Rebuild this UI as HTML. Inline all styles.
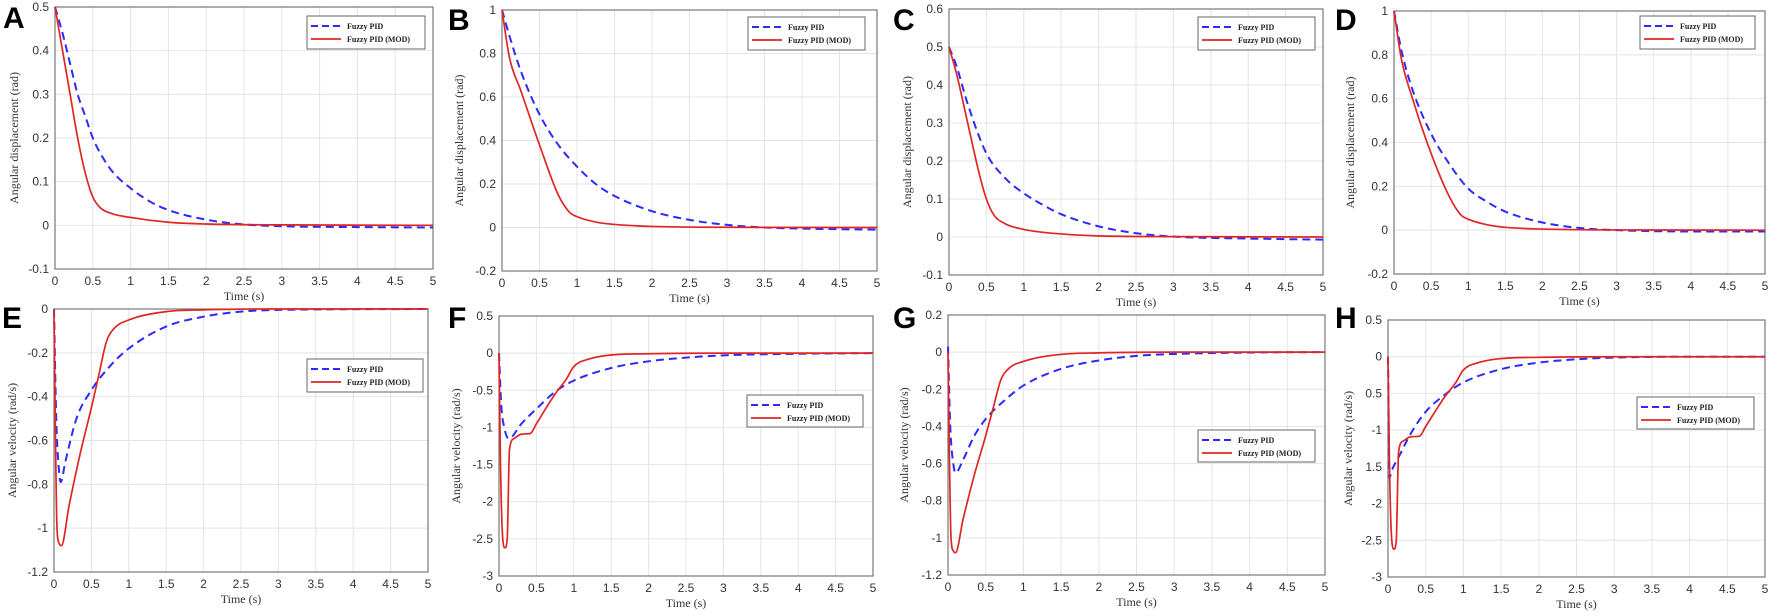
<!DOCTYPE html>
<html><head><meta charset="utf-8"><style>
html,body{margin:0;padding:0;background:#fff;}
svg{display:block;}
.tk{font-family:"Liberation Sans",sans-serif;font-size:12px;fill:#333;}
.ax{font-family:"Liberation Serif",serif;font-size:12px;fill:#333;}
.lg{font-family:"Liberation Serif",serif;font-size:8px;font-weight:bold;fill:#222;}
.pl{font-family:"Liberation Sans",sans-serif;font-size:30px;font-weight:bold;fill:#000;}
</style></head><body>
<svg id="fig" width="1772" height="616" viewBox="0 0 1772 616" xmlns="http://www.w3.org/2000/svg"></svg>
<script>
// Shared x ticks
const xTicks = [0,0.5,1,1.5,2,2.5,3,3.5,4,4.5,5];
// Panel A
const aT = [0,0.1,0.2,0.3,0.4,0.5,0.6,0.75,1,1.25,1.5,2,2.5,3,4,5];
const aBlue = [0.5,0.44,0.37,0.3,0.25,0.2,0.165,0.125,0.085,0.055,0.035,0.013,0.002,-0.002,-0.004,-0.005];
const aRedT = [0,0.1,0.2,0.3,0.4,0.5,0.6,0.75,1,1.5,2,3,5];
const aRed = [0.5,0.4,0.3,0.2,0.12,0.065,0.04,0.027,0.018,0.007,0.003,0.001,0];
const aYTicks = [-0.1,0,0.1,0.2,0.3,0.4,0.5];
// Panel B
const bT = [0,0.1,0.25,0.5,0.75,1,1.25,1.5,2,2.5,3,3.5,4,5];
const bBlue = [1,0.88,0.72,0.52,0.38,0.28,0.2,0.145,0.075,0.035,0.012,0,-0.005,-0.01];
const bRedT = [0,0.1,0.25,0.5,0.75,0.9,1,1.25,1.5,2,3,5];
const bRed = [1,0.78,0.63,0.38,0.15,0.07,0.05,0.025,0.014,0.005,0.001,0];
const bYTicks = [-0.2,0,0.2,0.4,0.6,0.8,1];
// Panel C
const cT = [0,0.1,0.25,0.5,0.75,1,1.25,1.5,2,2.5,3,4,5];
const cBlue = [0.5,0.45,0.35,0.22,0.155,0.115,0.085,0.06,0.028,0.01,0.001,-0.004,-0.007];
const cRedT = [0,0.1,0.25,0.4,0.5,0.6,0.75,1,1.5,2,3,5];
const cRed = [0.5,0.43,0.3,0.17,0.1,0.058,0.035,0.02,0.008,0.003,0.001,0];
const cYTicks = [-0.1,0,0.1,0.2,0.3,0.4,0.5,0.6];
// Panel D
const dT = [0,0.1,0.25,0.5,0.75,1,1.25,1.5,2,2.5,3,4,5];
const dBlue = [1,0.82,0.64,0.44,0.3,0.19,0.13,0.085,0.035,0.01,0,-0.006,-0.006];
const dRedT = [0,0.1,0.25,0.5,0.75,0.9,1,1.25,1.5,2,3,5];
const dRed = [1,0.78,0.6,0.35,0.15,0.07,0.05,0.025,0.013,0.005,0.001,0];
const dYTicks = [-0.2,0,0.2,0.4,0.6,0.8,1];
// Panel E
const eT = [0,0.03,0.07,0.09,0.15,0.3,0.5,0.75,1,1.5,2,2.5,3,5];
const eBlue = [0,-0.5,-0.75,-0.79,-0.7,-0.5,-0.37,-0.26,-0.18,-0.08,-0.035,-0.012,-0.004,0];
const eRedT = [0,0.02,0.04,0.07,0.1,0.2,0.35,0.5,0.6,0.7,0.8,1,1.5,2,3,5];
const eRed = [0,-0.6,-1.0,-1.07,-1.08,-0.9,-0.66,-0.45,-0.3,-0.15,-0.09,-0.05,-0.012,-0.004,0,0];
const eYTicks = [-1.2,-1,-0.8,-0.6,-0.4,-0.2,0];
// Panel F
const fT = [0,0.03,0.07,0.13,0.3,0.5,0.75,1,1.5,2,2.5,3,4,5];
const fBlue = [0,-0.7,-1.0,-1.15,-0.95,-0.75,-0.52,-0.37,-0.2,-0.11,-0.06,-0.03,-0.008,0];
const fRedT = [0,0.02,0.05,0.08,0.11,0.14,0.2,0.3,0.42,0.5,0.75,0.9,1,1.2,1.5,2,3,5];
const fRed = [0,-1.5,-2.5,-2.62,-2.5,-1.3,-1.15,-1.09,-1.08,-0.95,-0.55,-0.35,-0.18,-0.08,-0.025,-0.008,0,0];
const fYTicks = [-3,-2.5,-2,-1.5,-1,-0.5,0,0.5];
// Panel G
const gT = [0,0.03,0.07,0.1,0.2,0.35,0.5,0.75,1,1.5,2,2.5,3,4,5];
const gBlue = [0.03,-0.4,-0.6,-0.65,-0.58,-0.45,-0.36,-0.26,-0.18,-0.09,-0.045,-0.02,-0.01,-0.002,0];
const gRedT = [0,0.02,0.04,0.07,0.1,0.2,0.35,0.5,0.6,0.7,0.8,1,1.5,2,3,5];
const gRed = [0,-0.6,-1.0,-1.07,-1.08,-0.9,-0.66,-0.45,-0.3,-0.15,-0.09,-0.05,-0.012,-0.004,0,0];
const gYTicks = [-1.2,-1,-0.8,-0.6,-0.4,-0.2,0,0.2];
// Panel H
const hT = [0,0.02,0.05,0.15,0.3,0.5,0.75,1,1.5,2,2.5,3,4,5];
const hBlue = [0,-1.65,-1.55,-1.35,-1.05,-0.75,-0.52,-0.35,-0.17,-0.08,-0.035,-0.012,0,0];
const hRedT = [0,0.02,0.05,0.08,0.11,0.14,0.2,0.3,0.42,0.5,0.75,0.9,1,1.2,1.5,2,3,5];
const hRed = [0,-1.5,-2.5,-2.62,-2.5,-1.3,-1.15,-1.09,-1.08,-0.95,-0.55,-0.35,-0.18,-0.08,-0.025,-0.008,0,0];
const hYTicks = [-3,-2.5,-2,-1.5,-1,-0.5,0,0.5];
const hYLabels = ["-3","-2.5","-2","1.5","-1","0.5","0","0.5"];

const NS = "http://www.w3.org/2000/svg";
const fig = document.getElementById('fig');
function mk(tag, attrs, parent){const e=document.createElementNS(NS,tag);for(const k in attrs)e.setAttribute(k,attrs[k]);(parent||fig).appendChild(e);return e;}

// monotone cubic path through pixel points
function monoPath(xs, ys){
  const n=xs.length; if(n<2) return '';
  const d=[],m=new Array(n);
  for(let i=0;i<n-1;i++) d.push((ys[i+1]-ys[i])/(xs[i+1]-xs[i]));
  m[0]=d[0]; m[n-1]=d[n-2];
  for(let i=1;i<n-1;i++){ m[i]=(d[i-1]*d[i]<=0)?0:(d[i-1]+d[i])/2; }
  for(let i=0;i<n-1;i++){
    if(d[i]===0){m[i]=0;m[i+1]=0;continue;}
    const a=m[i]/d[i], b=m[i+1]/d[i], s=a*a+b*b;
    if(s>9){const t=3/Math.sqrt(s);m[i]=t*a*d[i];m[i+1]=t*b*d[i];}
  }
  let p='M'+xs[0]+','+ys[0];
  for(let i=0;i<n-1;i++){
    const h=(xs[i+1]-xs[i])/3;
    p+=' C'+(xs[i]+h)+','+(ys[i]+m[i]*h)+' '+(xs[i+1]-h)+','+(ys[i+1]-m[i+1]*h)+' '+xs[i+1]+','+ys[i+1];
  }
  return p;
}

const panels = [
 {id:'a',L:'A',lx:3,ly:28,x1:55,x2:433,y1:7,y2:269,ymin:-0.1,ymax:0.5,yt:aYTicks,bT:aT,b:aBlue,rT:aRedT,r:aRed,yl:'Angular displacement (rad)',ylx:18,leg:[307,16,118,33]},
 {id:'b',L:'B',lx:448,ly:30,x1:502,x2:877,y1:10,y2:271,ymin:-0.2,ymax:1,yt:bYTicks,bT:bT,b:bBlue,rT:bRedT,r:bRed,yl:'Angular displacement (rad)',ylx:463,leg:[748,17,117,33]},
 {id:'c',L:'C',lx:893,ly:30,x1:949,x2:1323,y1:9,y2:275,ymin:-0.1,ymax:0.6,yt:cYTicks,bT:cT,b:cBlue,rT:cRedT,r:cRed,yl:'Angular displacement (rad)',ylx:911,leg:[1198,17,117,33]},
 {id:'d',L:'D',lx:1335,ly:30,x1:1394,x2:1765,y1:11,y2:274,ymin:-0.2,ymax:1,yt:dYTicks,bT:dT,b:dBlue,rT:dRedT,r:dRed,yl:'Angular displacement (rad)',ylx:1354,leg:[1640,16,115,33]},
 {id:'e',L:'E',lx:2,ly:328,x1:54,x2:428,y1:309,y2:572,ymin:-1.2,ymax:0,yt:eYTicks,bT:eT,b:eBlue,rT:eRedT,r:eRed,yl:'Angular velocity (rad/s)',ylx:16,leg:[307,359,116,33]},
 {id:'f',L:'F',lx:448,ly:328,x1:499,x2:873,y1:316,y2:576,ymin:-3,ymax:0.5,yt:fYTicks,bT:fT,b:fBlue,rT:fRedT,r:fRed,yl:'Angular velocity (rad/s)',ylx:460,leg:[747,395,116,32]},
 {id:'g',L:'G',lx:893,ly:328,x1:948,x2:1325,y1:315,y2:575,ymin:-1.2,ymax:0.2,yt:gYTicks,bT:gT,b:gBlue,rT:gRedT,r:gRed,yl:'Angular velocity (rad/s)',ylx:908,leg:[1198,430,117,32]},
 {id:'h',L:'H',lx:1335,ly:328,x1:1388,x2:1765,y1:320,y2:577,ymin:-3,ymax:0.5,yt:hYTicks,ytl:hYLabels,bT:hT,b:hBlue,rT:hRedT,r:hRed,yl:'Angular velocity (rad/s)',ylx:1352,leg:[1637,397,117,32]}
];

panels.forEach(p=>{
  const g = mk('g',{});
  
  
  const X = v => p.x1 + (v-0)/(5-0)*(p.x2-p.x1);
  const Y = v => p.y2 - (v-p.ymin)/(p.ymax-p.ymin)*(p.y2-p.y1);
  mk('rect',{x:p.x1,y:p.y1,width:p.x2-p.x1,height:p.y2-p.y1,fill:'#fff'},g);
  const grid = mk('g',{stroke:'#e4e4e4','stroke-width':1},g);
  
  
  xTicks.forEach(t=>{
    mk('line',{x1:X(t),x2:X(t),y1:p.y1,y2:p.y2},grid);
    const tl = mk('text',{x:X(t),y:p.y2+16,'text-anchor':'middle',class:'tk'},g);
    tl.textContent = String(t);
    
    
  });
  p.yt.forEach((t,i)=>{
    mk('line',{x1:p.x1,x2:p.x2,y1:Y(t),y2:Y(t)},grid);
    const tl = mk('text',{x:p.x1-6,y:Y(t)+4,'text-anchor':'end',class:'tk'},g);
    tl.textContent = p.ytl ? p.ytl[i] : String(t);
    
    
  });
  mk('rect',{x:p.x1,y:p.y1,width:p.x2-p.x1,height:p.y2-p.y1,fill:'none',stroke:'#777','stroke-width':1.2},g);
  const bl = mk('path',{d:monoPath(p.bT.map(X),p.b.map(Y)),fill:'none',stroke:'#2b2bff','stroke-width':2,'stroke-dasharray':'8,5'},g);
  
  
  const rl = mk('path',{d:monoPath(p.rT.map(X),p.r.map(Y)),fill:'none',stroke:'#e02525','stroke-width':1.7,'stroke-linejoin':'round'},g);
  
  
  const xt = mk('text',{x:(p.x1+p.x2)/2,y:p.y2+31,'text-anchor':'middle',class:'ax'},g);
  xt.textContent='Time (s)';
  
  
  const cy=(p.y1+p.y2)/2;
  const yt = mk('text',{x:p.ylx,y:cy,'text-anchor':'middle',class:'ax',transform:'rotate(-90 '+p.ylx+' '+cy+')'},g);
  yt.textContent=p.yl;
  
  
  const [lx,ly,lw,lh]=p.leg;
  const lg = mk('g',{},g);
  
  
  mk('rect',{x:lx,y:ly,width:lw,height:lh,fill:'#fff',stroke:'#666','stroke-width':1},lg);
  mk('line',{x1:lx+4,x2:lx+34,y1:ly+10,y2:ly+10,stroke:'#2b2bff','stroke-width':2,'stroke-dasharray':'7,4'},lg);
  mk('line',{x1:lx+4,x2:lx+34,y1:ly+23,y2:ly+23,stroke:'#e02525','stroke-width':1.7},lg);
  const t1=mk('text',{x:lx+40,y:ly+13,class:'lg'},lg); t1.textContent='Fuzzy  PID';
  
  
  const t2=mk('text',{x:lx+40,y:ly+26,class:'lg'},lg); t2.textContent='Fuzzy PID (MOD)';
  
  
  const pl = mk('text',{x:p.lx,y:p.ly,class:'pl'},g);
  pl.textContent=p.L;
  
  
});
</script>
</body></html>
